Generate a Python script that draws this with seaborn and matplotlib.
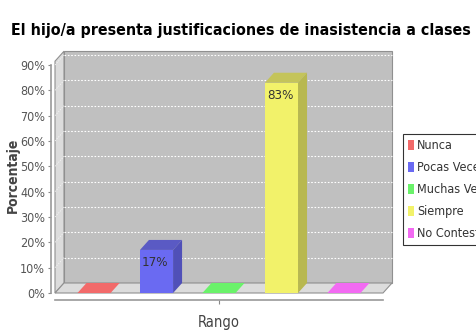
import matplotlib
matplotlib.use("Agg")
import matplotlib.pyplot as plt
from matplotlib import font_manager as fm
from matplotlib.patches import Polygon, Rectangle
import seaborn as sns
import pandas as pd

# data
titulo = "El hijo/a presenta justificaciones de inasistencia a clases"
respuestas = ["Nunca", "Pocas Veces", "Muchas Veces", "Siempre", "No Contestó"]
porcentajes = [0, 17, 0, 83, 0]
grupo = "Rango"
yticks = [0, 10, 20, 30, 40, 50, 60, 70, 80, 90]

# JFreeChart-ish colours (front, side, top)
frente = ["#f26a6a", "#6a6af2", "#6af26a", "#f2f26a", "#f26af2"]
lado = ["#b85050", "#5050b8", "#50b850", "#b8b850", "#b850b8"]
arriba = ["#f07878", "#5a5ac4", "#78f078", "#c4c45a", "#f078f0"]

sns.set_theme(style="white")
plt.rcParams["font.family"] = ["DejaVu Sans"]


def condensada(weight, size):
    # pick the condensed DejaVu file directly, fall back to the normal one
    for f in fm.fontManager.ttflist:
        if (f.name == "DejaVu Sans" and f.stretch == "condensed"
                and f.weight == weight and f.style == "normal"):
            return fm.FontProperties(fname=f.fname, size=size)
    return fm.FontProperties(family="DejaVu Sans", weight=weight, size=size)


df = pd.DataFrame({"Rango": [grupo] * len(respuestas),
                   "Respuesta": respuestas,
                   "Porcentaje": porcentajes})

fig = plt.figure(figsize=(4.76, 3.33), dpi=100)
ax = fig.add_axes([55 / 476, 40 / 333, 328 / 476, 228 / 333])
ax.set_facecolor("none")

sns.barplot(data=df, x="Rango", y="Porcentaje", hue="Respuesta",
            palette=frente, saturation=1, width=0.8, gap=0.47,
            linewidth=0, ax=ax, zorder=3)
ax.get_legend().remove()

x0, x1 = -0.42, 0.42
y0, y1 = 0, 90
ax.set_xlim(x0, x1)
ax.set_ylim(y0, y1)

# depth of the fake 3d box in data units
ddx = 9 / 390.6
ddy = 10 / (228 / 90)

# walls
ax.add_patch(Rectangle((x0 + ddx, y0 + ddy), x1 - x0, y1 - y0 + 1.5, facecolor="#c0c0c0",
                       edgecolor="#909090", lw=0.8, clip_on=False, zorder=0))
ax.add_patch(Polygon([(x0, y0), (x0 + ddx, y0 + ddy), (x0 + ddx, y1 + ddy + 1.5), (x0, y1 + 1.5)],
                     closed=True, facecolor="#dcdcdc", edgecolor="#909090", lw=0.8,
                     clip_on=False, zorder=0))
ax.add_patch(Polygon([(x0, y0), (x1, y0), (x1 + ddx, y0 + ddy), (x0 + ddx, y0 + ddy)],
                     closed=True, facecolor="#dcdcdc", edgecolor="#909090", lw=0.8,
                     clip_on=False, zorder=0))

for t in yticks[1:]:
    ax.plot([x0 + ddx, x1 + ddx], [t + ddy, t + ddy], color="white", lw=0.8,
            ls=(0, (1.5, 1.5)), clip_on=False, zorder=1)
    ax.plot([x0, x0 + ddx], [t, t + ddy], color="#f4f4f4", lw=0.6,
            ls=(0, (1.5, 1.5)), clip_on=False, zorder=1)

# 3d faces of the bars
for i, cont in enumerate(ax.containers):
    for p in cont.patches:
        bx, bw, bh = p.get_x(), p.get_width(), p.get_height()
        top_col = frente[i] if bh == 0 else arriba[i]
        ax.add_patch(Polygon([(bx, bh), (bx + bw, bh), (bx + bw + ddx, bh + ddy), (bx + ddx, bh + ddy)],
                             closed=True, facecolor=top_col, lw=0, clip_on=False, zorder=4))
        if bh > 0:
            ax.add_patch(Polygon([(bx + bw, 0), (bx + bw + ddx, ddy), (bx + bw + ddx, bh + ddy), (bx + bw, bh)],
                                 closed=True, facecolor=lado[i], lw=0, clip_on=False, zorder=4))
            ax.annotate(f"{porcentajes[i]}%", (bx + bw / 2, bh), xytext=(-1, -9),
                        textcoords="offset points", ha="center", va="center",
                        fontproperties=condensada(400, 9.5), color="#333333", zorder=5)

# axes
ax.set_yticks(yticks)
ax.set_yticklabels([f"{t}%" for t in yticks])
ax.set_xticks([0])
ax.set_xticklabels([""])
ax.tick_params(axis="y", length=2, width=0.8, color="#888888", pad=2, left=True,
               labelcolor="#555555")
ax.tick_params(axis="x", length=3, width=0.8, color="#888888", bottom=True)
for s in ["top", "right"]:
    ax.spines[s].set_visible(False)
ax.spines["left"].set_position(("outward", 3))
ax.spines["bottom"].set_position(("outward", 5))
for s in ["left", "bottom"]:
    ax.spines[s].set_color("#999999")
    ax.spines[s].set_linewidth(1.2)
ax.set_xlabel("")
ax.set_ylabel("")

fig.text(13 / 476, 1 - 175 / 333, "Porcentaje", rotation=90, ha="center", va="center",
         fontproperties=condensada(700, 10), color="#444444")
fig.text(219 / 476, 1 - 323 / 333, "Rango", ha="center", va="center",
         fontproperties=condensada(400, 10.5), color="#444444")

# title scaled to width of the reference
tt = fig.text(241 / 476, 1 - 31 / 333, titulo, ha="center", va="center",
              fontproperties=condensada(700, 16), color="black")
fig.canvas.draw()
w = tt.get_window_extent().width
tt.set_fontsize(16 * 458 / w)

# legend
handles = [Rectangle((0, 0), 1, 1, facecolor=c, lw=0) for c in frente]
leg = fig.legend(handles, respuestas, loc="upper left",
                 bbox_to_anchor=(403 / 476, 1 - 134 / 333), frameon=True, fancybox=False,
                 prop=condensada(400, 9), handlelength=0.45, handleheight=0.9, handletextpad=0.25,
                 labelspacing=0.72, borderpad=0.4, borderaxespad=0)
leg.get_frame().set_edgecolor("black")
leg.get_frame().set_linewidth(0.8)
for txt in leg.get_texts():
    txt.set_color("#333333")

for lab in ax.get_yticklabels():
    lab.set_fontproperties(condensada(400, 9))

fig.savefig("out.png", dpi=100)
